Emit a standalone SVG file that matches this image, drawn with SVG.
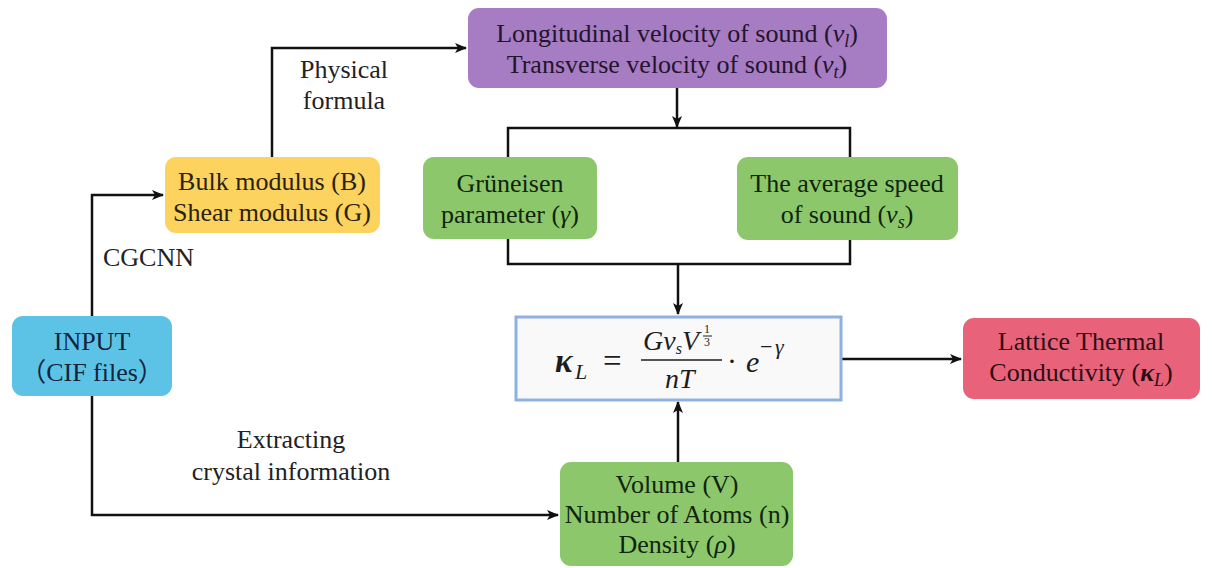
<svg xmlns="http://www.w3.org/2000/svg" width="1212" height="568" viewBox="0 0 1212 568">
<defs>
<marker id="ah" markerWidth="12" markerHeight="10" refX="11" refY="5" orient="auto" markerUnits="userSpaceOnUse">
<path d="M0,0 L12,5 L0,10 L3,5 Z" fill="#111"/>
</marker>
<style>
.t{font-family:'Liberation Serif','Noto Sans CJK SC',serif;font-size:26px;text-anchor:middle}
.f{font-family:'Liberation Serif',serif;font-style:italic}
.con{fill:none;stroke:#111;stroke-width:2.5}
</style>
</defs>
<rect width="1212" height="568" fill="#ffffff"/>

<g id="connectors" class="con">
<path d="M92,316 V195 H163" marker-end="url(#ah)"/>
<path d="M92,396 V515 H558" marker-end="url(#ah)"/>
<path d="M272,157 V48 H466" marker-end="url(#ah)"/>
<path d="M677,88 V127" marker-end="url(#ah)"/>
<path d="M508,157 V128 H850 V157"/>
<path d="M508,239 V264 H850 V239"/>
<path d="M678,264 V314" marker-end="url(#ah)"/>
<path d="M678,462 V402" marker-end="url(#ah)"/>
<path d="M842,359 H961" marker-end="url(#ah)"/>
</g>

<g id="labels" class="t" fill="#222">
<text x="344" y="78">Physical</text>
<text x="344" y="109">formula</text>
<text x="103" y="266" text-anchor="start" style="text-anchor:start">CGCNN</text>
<text x="291" y="448">Extracting</text>
<text x="291" y="480">crystal information</text>
</g>

<g id="input" class="t" fill="#14243a">
<rect x="12" y="316" width="160" height="80" rx="11" fill="#5cc3e6"/>
<text x="92" y="350">INPUT</text>
<text x="92" y="381">（CIF files）</text>
</g>

<g id="moduli" class="t" fill="#2a2210">
<rect x="165" y="157" width="215" height="76" rx="11" fill="#fcd35e"/>
<text x="272" y="190">Bulk modulus (B)</text>
<text x="272" y="221">Shear modulus (G)</text>
</g>

<g id="velocities" class="t" fill="#24142c">
<rect x="468" y="8" width="419" height="80" rx="11" fill="#a67cc2"/>
<text x="677" y="42">Longitudinal velocity of sound (<tspan font-style="italic">v</tspan><tspan font-style="italic" font-size="18" dy="5">l</tspan><tspan dy="-5">)</tspan></text>
<text x="677" y="73">Transverse velocity of sound (<tspan font-style="italic">v</tspan><tspan font-style="italic" font-size="18" dy="5">t</tspan><tspan dy="-5">)</tspan></text>
</g>

<g id="gruneisen" class="t" fill="#10240c">
<rect x="423" y="157" width="174" height="82" rx="11" fill="#8cc86b"/>
<text x="510" y="192">Grüneisen</text>
<text x="510" y="223">parameter (<tspan font-style="italic">γ</tspan>)</text>
</g>

<g id="avgspeed" class="t" fill="#10240c">
<rect x="737" y="157" width="221" height="83" rx="11" fill="#8cc86b"/>
<text x="847" y="192">The average speed</text>
<text x="847" y="223">of sound (<tspan font-style="italic">v</tspan><tspan font-style="italic" font-size="18" dy="5">s</tspan><tspan dy="-5">)</tspan></text>
</g>

<g id="formula" class="f" fill="#1d1d1d" font-size="28">
<rect x="516" y="317" width="325" height="83" fill="#f9f9f9" stroke="#8eb1e2" stroke-width="3"/>
<text x="555" y="372" font-size="33" font-weight="bold">κ</text>
<text x="575" y="379" font-size="22">L</text>
<text x="603" y="372" font-size="33" font-style="normal">=</text>
<text x="643" y="350">G<tspan>v</tspan><tspan dy="4" font-size="16">s</tspan><tspan dy="-4">V</tspan></text>
<text x="704" y="333" font-size="12" font-style="normal">1</text>
<line x1="703" y1="336" x2="712" y2="336" stroke="#1d1d1d" stroke-width="1"/>
<text x="704" y="346" font-size="12" font-style="normal">3</text>
<line x1="641" y1="360" x2="722" y2="360" stroke="#1d1d1d" stroke-width="1.6"/>
<text x="665" y="388">nT</text>
<text x="727" y="371" font-style="normal" font-size="30">·</text>
<text x="746" y="372" font-size="30">e</text>
<text x="760" y="354" font-size="22" font-style="normal">−</text>
<text x="775" y="354" font-size="22">γ</text>
</g>

<g id="volume" class="t" fill="#10240c">
<rect x="560" y="462" width="233" height="104" rx="11" fill="#8cc86b"/>
<text x="677" y="493">Volume (V)</text>
<text x="677" y="523">Number of Atoms (n)</text>
<text x="677" y="553">Density (<tspan font-style="italic">ρ</tspan>)</text>
</g>

<g id="ltc" class="t" fill="#2a0e14">
<rect x="963" y="318" width="237" height="81" rx="11" fill="#e8637a"/>
<text x="1081" y="350">Lattice Thermal</text>
<text x="1081" y="381">Conductivity (<tspan font-style="italic" font-weight="bold">κ</tspan><tspan font-style="italic" font-size="18" dy="5">L</tspan><tspan dy="-5">)</tspan></text>
</g>
</svg>
